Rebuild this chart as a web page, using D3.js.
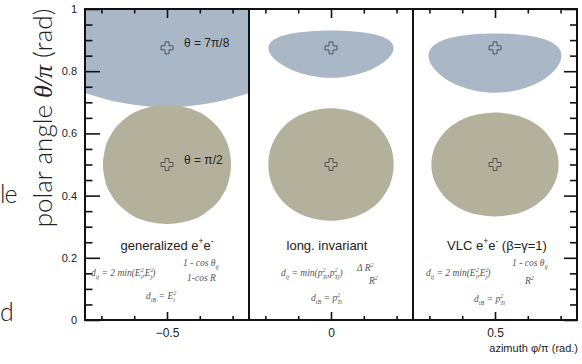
<!DOCTYPE html>
<html><head><meta charset="utf-8">
<script src="https://cdn.jsdelivr.net/npm/d3@7"></script>
<style>body{margin:0;background:#fff}svg{display:block}</style>
</head><body><svg id="c" width="582" height="364"></svg>
<script>
// ---------- data ----------
const panelCenters = [-0.5, 0, 0.5];
const panelTitles = ["generalized", "long. invariant", "VLC"];
const jetThetas = [0.875, 0.5];
const jetLabels = ["θ = 7π/8", "θ = π/2"];
const yMajorTicks = [0, 0.2, 0.4, 0.6, 0.8, 1];
const yMajorLabels = ["0", "0.2", "0.4", "0.6", "0.8", "1"];
const yMinorTicks = [0.05,0.1,0.15,0.25,0.3,0.35,0.45,0.5,0.55,0.65,0.7,0.75,0.85,0.9,0.95];
const xMinorOffsets = [-0.2, -0.1, 0.1, 0.2];
const xMajorLabels = ["\u22120.5", "0", "0.5"];

// jet catchment boundaries, [dphi/pi from jet, theta/pi], right halves (mirrored for left)
const genBlueLower = [[-0.25,0.730],[-0.2,0.714],[-0.15,0.701],[-0.1,0.692],[-0.05,0.686],[0,0.684],
                      [0.05,0.686],[0.1,0.692],[0.15,0.701],[0.2,0.714],[0.25,0.730]];
const genTanHalf = [[0,0.309],[0.051,0.315],[0.102,0.334],[0.153,0.377],[0.173,0.408],[0.184,0.432],
                    [0.194,0.479],[0.195,0.5],[0.194,0.521],[0.184,0.568],[0.173,0.592],[0.153,0.623],
                    [0.102,0.666],[0.051,0.685],[0,0.691]];
const longBlueHalf = [[0,0.7786],[0.0347,0.7807],[0.0686,0.7867],[0.1056,0.7983],[0.1424,0.8164],
                      [0.1801,0.8483],[0.1910,0.875],[0.1801,0.8972],[0.1424,0.9156],[0.1056,0.9236],
                      [0.0686,0.9280],[0.0347,0.9301],[0,0.9308]];
const longTanHalf = [[0,0.3195],[0.0347,0.3222],[0.0686,0.3304],[0.1056,0.3471],[0.1424,0.3759],
                     [0.1801,0.4368],[0.1910,0.5],[0.1801,0.5632],[0.1424,0.6241],[0.1056,0.6529],
                     [0.0686,0.6696],[0.0347,0.6778],[0,0.6805]];
const vlcBlueHalf = [[0,0.7309],[0.0486,0.735],[0.0717,0.74],[0.1245,0.76],[0.1566,0.78],[0.1788,0.80],
                     [0.1937,0.82],[0.2016,0.84],[0.2013,0.86],[0.1896,0.88],[0.1571,0.90],[0.1238,0.91],
                     [0.0970,0.915],[0.0414,0.9205],[0,0.9216]];
const vlcTanHalf = [[0,0.3328],[0.0581,0.34],[0.0881,0.35],[0.1246,0.37],[0.1574,0.40],[0.1857,0.45],
                    [0.1940,0.5],[0.1857,0.55],[0.1574,0.60],[0.1246,0.63],[0.0881,0.65],[0.0581,0.66],[0,0.6672]];

const colBlue = "#a9b7c7", colTan = "#b3b09c";

// ---------- setup ----------
const svg = d3.select("#c");
svg.append("rect").attr("width",582).attr("height",364).attr("fill","#fff");
const x = d3.scaleLinear().domain([-0.75, 0.75]).range([85, 577]);
const y = d3.scaleLinear().domain([0, 1]).range([320, 9]);

function closed(half){
  const left = half.slice().reverse().filter(d=>d[0]!==0).map(d=>[-d[0],d[1]]);
  return half.concat(left);
}
function drawClosed(c, half, color){
  const line = d3.line().x(d=>x(c+d[0])).y(d=>y(d[1])).curve(d3.curveCatmullRomClosed.alpha(0.5));
  svg.append("path").attr("d", line(closed(half))).attr("fill", color);
}
const area = d3.area().x(d=>x(-0.5+d[0])).y0(d=>y(d[1])).y1(y(1)).curve(d3.curveCatmullRom.alpha(0.5));
svg.append("path").attr("d", area(genBlueLower)).attr("fill", colBlue);
drawClosed(-0.5, genTanHalf, colTan);
drawClosed(0, longBlueHalf, colBlue);
drawClosed(0, longTanHalf, colTan);
drawClosed(0.5, vlcBlueHalf, colBlue);
drawClosed(0.5, vlcTanHalf, colTan);

// jet markers
const cross = d3.symbol(d3.symbolCross, 80);
panelCenters.forEach(c => jetThetas.forEach(t => {
  svg.append("path").attr("d", cross()).attr("transform", `translate(${x(c)},${y(t)})`)
    .attr("fill","none").attr("stroke","#4a4a4a").attr("stroke-width",0.9);
}));
jetLabels.forEach((lab,i)=>{
  svg.append("text").attr("x", x(-0.5)+17).attr("y", y(jetThetas[i])-1)
    .attr("font-family","Liberation Sans, Arial, sans-serif").attr("font-size",12).attr("fill","#222").text(lab);
});

// ---------- axes ----------
function styleAxis(g){ g.select(".domain").remove(); g.selectAll("line").attr("stroke","#111").attr("stroke-width",1.6);
  g.selectAll("text").attr("font-family","Liberation Sans, Arial, sans-serif").attr("fill","#222"); }
panelCenters.forEach((c,i)=>{
  const minor = xMinorOffsets.map(o=>c+o);
  svg.append("g").attr("transform","translate(0,320)").call(d3.axisBottom(x).tickValues(minor).tickSize(-4).tickFormat("")).call(styleAxis);
  svg.append("g").attr("transform","translate(0,320)")
    .call(d3.axisBottom(x).tickValues([c]).tickSize(-8).tickPadding(8).tickFormat(()=>xMajorLabels[i]))
    .call(styleAxis).selectAll("text").attr("font-size",12);
  svg.append("g").attr("transform","translate(0,9)").call(d3.axisTop(x).tickValues(minor).tickSize(-4.5).tickFormat("")).call(styleAxis);
  svg.append("g").attr("transform","translate(0,9)").call(d3.axisTop(x).tickValues([c]).tickSize(-9).tickFormat("")).call(styleAxis);
});
svg.append("g").attr("transform","translate(85,0)").call(d3.axisLeft(y).tickValues(yMinorTicks).tickSize(-7.5).tickFormat("")).call(styleAxis);
svg.append("g").attr("transform","translate(85,0)")
  .call(d3.axisLeft(y).tickValues(yMajorTicks).tickSize(-15).tickPadding(8).tickFormat((d,i)=>yMajorLabels[i]))
  .call(styleAxis).selectAll("text").attr("font-size",11);
svg.append("g").attr("transform","translate(577,0)").call(d3.axisRight(y).tickValues(yMinorTicks).tickSize(-7).tickFormat("")).call(styleAxis);
svg.append("g").attr("transform","translate(577,0)").call(d3.axisRight(y).tickValues(yMajorTicks).tickSize(-13).tickFormat("")).call(styleAxis);

svg.append("rect").attr("x",x(-0.75)).attr("y",y(1)).attr("width",x(0.75)-x(-0.75)).attr("height",y(0)-y(1))
  .attr("fill","none").attr("stroke","#111").attr("stroke-width",2);
[-0.25,0.25].forEach(v=>svg.append("line").attr("x1",x(v)).attr("x2",x(v)).attr("y1",y(0)).attr("y2",y(1))
  .attr("stroke","#111").attr("stroke-width",2));

// ---------- rich text helper ----------
function rich(px, py, parts, size, opts={}){
  const t = svg.append("text").attr("x",px).attr("y",py)
    .attr("font-family", opts.family || "Liberation Serif, Times New Roman, serif")
    .attr("font-style", opts.style || "italic").attr("font-size",size).attr("fill", opts.fill || "#555")
    .attr("text-anchor", opts.anchor || "start");
  let cur = 0;
  const small = size*0.65;
  parts.forEach(([s,k])=>{
    if(k==="n"){ t.append("tspan").attr("dy",-cur).text(s); cur=0; }
    else if(k==="sub"){ t.append("tspan").attr("dy",size*0.35-cur).attr("font-size",small).text(s); cur=size*0.35; }
    else if(k==="sup"){ t.append("tspan").attr("dy",-size*0.45-cur).attr("font-size",small).text(s); cur=-size*0.45; }
    else if(k==="ss"){ const [a,b]=s.split("|");
      t.append("tspan").attr("dy",-size*0.45-cur).attr("font-size",small).text(a);
      t.append("tspan").attr("dy",size*0.8).attr("dx",-small*0.5).attr("font-size",small).text(b); cur=size*0.35; }
  });
  return t;
}
const F = 9.5;
const sans = {family:"Liberation Sans, Arial, sans-serif", style:"normal", fill:"#222", anchor:"middle"};
rich(x(-0.5), 250, [["generalized e","n"],["+","sup"],["e","n"],["-","sup"]], 13, sans);
rich(x(0)-4, 250, [[panelTitles[1],"n"]], 13, sans);
rich(x(0.5)+2, 250, [["VLC e","n"],["+","sup"],["e","n"],["-","sup"],[" (β=γ=1)","n"]], 13, sans);

// panel 1 formulas
rich(91, 276, [["d","n"],["ij","sub"],[" = 2 min(E","n"],["2|i","ss"],[",E","n"],["2|j","ss"],[")","n"]], F);
rich(183, 266, [["1 - cos θ","n"],["ij","sub"]], F);
rich(187, 281, [["1-cos R","n"]], F);
rich(146, 299, [["d","n"],["iB","sub"],[" = E","n"],["2|i","ss"]], F);
// panel 2 formulas
rich(281, 276, [["d","n"],["ij","sub"],[" = min(p","n"],["2|Ti","ss"],[",p","n"],["2|Tj","ss"],[")","n"]], F);
rich(357, 271, [["Δ R","n"],["2","sup"]], F);
rich(369, 284, [["R","n"],["2","sup"]], F);
rich(311, 301, [["d","n"],["iB","sub"],[" = p","n"],["2|Ti","ss"]], F);
// panel 3 formulas
rich(426, 276, [["d","n"],["ij","sub"],[" = 2 min(E","n"],["2|i","ss"],[",E","n"],["2|j","ss"],[")","n"]], F);
rich(512, 266, [["1 - cos θ","n"],["ij","sub"]], F);
rich(525, 284, [["R","n"],["2","sup"]], F);
rich(474, 302, [["d","n"],["iB","sub"],[" = p","n"],["2|Ti","ss"]], F);

// axis titles
svg.append("text").attr("x",578).attr("y",352).attr("text-anchor","end")
  .attr("font-family","Liberation Sans, Arial, sans-serif").attr("font-size",11).attr("fill","#222").text("azimuth φ/π (rad.)");
const yt = svg.append("text").attr("transform","translate(52,118) rotate(-90)").attr("text-anchor","middle")
  .attr("font-family","Lato, sans-serif").attr("font-weight",300).attr("font-size",26).attr("fill","#222");
yt.append("tspan").text("polar angle ");
yt.append("tspan").attr("font-family","Liberation Serif, serif").attr("font-weight",400).attr("font-style","italic").text("θ/π");
yt.append("tspan").text(" (rad)");
svg.append("text").attr("x",0).attr("y",203).attr("letter-spacing",-1).attr("font-family","Lato, sans-serif")
  .attr("font-weight",300).attr("font-size",25).attr("fill","#222").text("le");
svg.append("text").attr("x",0).attr("y",321).attr("font-family","Lato, sans-serif")
  .attr("font-weight",300).attr("font-size",25).attr("fill","#222").text("d");
</script></body></html>
